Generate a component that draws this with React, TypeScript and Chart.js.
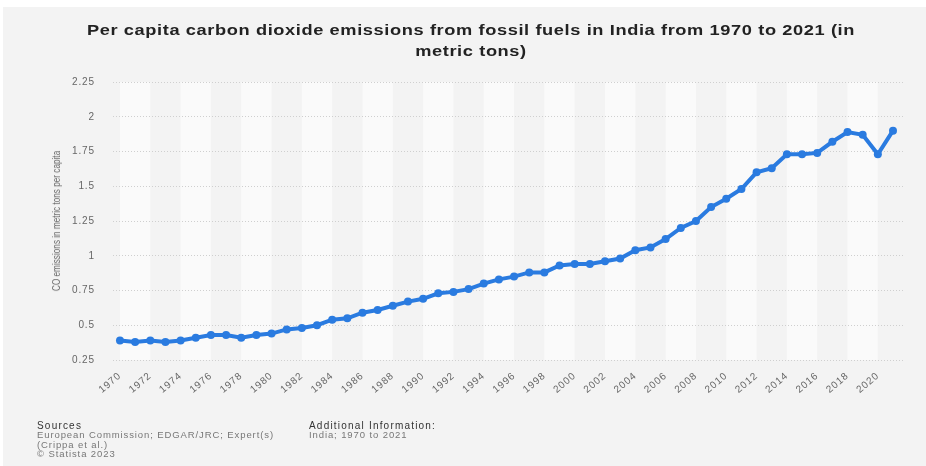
import { useEffect, useRef } from 'react';
import { Chart, registerables } from 'chart.js';

Chart.register(...registerables);

// Per capita CO2 emissions from fossil fuels, India (metric tons)
const years = [
  1970, 1971, 1972, 1973, 1974, 1975, 1976, 1977, 1978, 1979,
  1980, 1981, 1982, 1983, 1984, 1985, 1986, 1987, 1988, 1989,
  1990, 1991, 1992, 1993, 1994, 1995, 1996, 1997, 1998, 1999,
  2000, 2001, 2002, 2003, 2004, 2005, 2006, 2007, 2008, 2009,
  2010, 2011, 2012, 2013, 2014, 2015, 2016, 2017, 2018, 2019,
  2020, 2021,
];

const emissions = [
  0.39, 0.38, 0.39, 0.38, 0.39, 0.41, 0.43, 0.43, 0.41, 0.43,
  0.44, 0.47, 0.48, 0.5, 0.54, 0.55, 0.59, 0.61, 0.64, 0.67,
  0.69, 0.73, 0.74, 0.76, 0.8, 0.83, 0.85, 0.88, 0.88, 0.93,
  0.94, 0.94, 0.96, 0.98, 1.04, 1.06, 1.12, 1.2, 1.25, 1.35,
  1.41, 1.48, 1.6, 1.63, 1.73, 1.73, 1.74, 1.82, 1.89, 1.87,
  1.73, 1.9,
];

const xTickYears = [
  1970, 1972, 1974, 1976, 1978, 1980, 1982, 1984, 1986, 1988,
  1990, 1992, 1994, 1996, 1998, 2000, 2002, 2004, 2006, 2008,
  2010, 2012, 2014, 2016, 2018, 2020,
];

const yTicks = [0.25, 0.5, 0.75, 1, 1.25, 1.5, 1.75, 2, 2.25];

const titleLines = [
  'Per capita carbon dioxide emissions from fossil fuels in India from 1970 to 2021 (in',
  'metric tons)',
];
const yAxisTitle = 'CO emissions in metric tons per capita';
const sourceLines = [
  'European Commission; EDGAR/JRC; Expert(s)',
  '(Crippa et al.)',
  '\u00a9 Statista 2023',
];
const additionalInfo = 'India; 1970 to 2021';

const FONT = '"Liberation Sans", Arial, Helvetica, sans-serif';

// Light vertical stripes behind the plot, two years wide, every four years
const stripePlugin = {
  id: 'stripes',
  beforeDraw(chart: any) {
    const { ctx, chartArea, scales } = chart;
    const x = scales.x;
    ctx.save();
    ctx.fillStyle = '#fafafa';
    for (let i = 0; i < xTickYears.length; i += 2) {
      const a = Math.max(x.getPixelForValue(xTickYears[i]), chartArea.left);
      const b = Math.min(x.getPixelForValue(xTickYears[i] + 2), chartArea.right);
      if (b > a) ctx.fillRect(a, chartArea.top, b - a, chartArea.bottom - chartArea.top);
    }
    ctx.restore();
    ctx.letterSpacing = '0.9px';
  },
};

export default function App() {
  const canvasRef = useRef<HTMLCanvasElement | null>(null);

  useEffect(() => {
    if (!canvasRef.current) return;
    const chart = new Chart(canvasRef.current, {
      type: 'line',
      data: {
        datasets: [
          {
            data: years.map((y, i) => ({ x: y, y: emissions[i] })),
            borderColor: '#2a7be0',
            backgroundColor: '#2a7be0',
            borderWidth: 4,
            pointRadius: 4,
            pointBorderWidth: 0,
            tension: 0,
          },
        ],
      },
      options: {
        responsive: false,
        animation: false,
        devicePixelRatio: 1,
        layout: { padding: { left: 0, top: 82, right: 23, bottom: 66 } },
        plugins: {
          legend: { display: false },
          tooltip: { enabled: false },
          title: { display: false },
        },
        scales: {
          x: {
            type: 'linear',
            min: 1969.54,
            max: 2021.66,
            afterBuildTicks: (scale: any) => {
              scale.ticks = xTickYears.map((v) => ({ value: v }));
            },
            afterFit: (scale: any) => {
              scale.height = 40;
            },
            grid: { display: false, drawTicks: false },
            border: { display: false },
            ticks: {
              autoSkip: false,
              minRotation: 40,
              maxRotation: 40,
              padding: 10,
              color: '#666',
              font: { family: FONT, size: 10 },
              callback: (v: any) => String(v),
            },
          },
          y: {
            min: 0.25,
            max: 2.25,
            afterBuildTicks: (scale: any) => {
              scale.ticks = yTicks.map((v) => ({ value: v }));
            },
            afterFit: (scale: any) => {
              scale.width = 113;
            },
            grid: { color: '#cfcfcf', lineWidth: 1, drawTicks: false },
            border: { display: false, dash: [1, 2] },
            ticks: {
              padding: 18,
              color: '#666',
              font: { family: FONT, size: 10 },
              callback: (v: any) => String(v),
            },
          },
        },
      },
      plugins: [stripePlugin],
    });
    return () => chart.destroy();
  }, []);

  return (
    <div
      style={{
        position: 'absolute',
        left: 0,
        top: 0,
        width: 926,
        height: 466,
        background: '#ffffff',
        fontFamily: FONT,
        overflow: 'hidden',
      }}
    >
      <div style={{ position: 'absolute', left: 3, top: 7, width: 923, height: 459, background: '#f3f3f3' }} />
      <canvas ref={canvasRef} width={926} height={466} style={{ position: 'absolute', left: 0, top: 0 }} />
      <div
        style={{
          position: 'absolute',
          left: 71,
          width: 800,
          top: 20,
          textAlign: 'center',
          fontWeight: 'bold',
          fontSize: 15,
          lineHeight: '20.5px',
          letterSpacing: '0.5px',
          color: '#222',
          transform: 'scaleX(1.215)',
          transformOrigin: '50% 50%',
        }}
      >
        {titleLines.map((t) => (
          <div key={t}>{t}</div>
        ))}
      </div>
      <div
        style={{
          position: 'absolute',
          left: 56,
          top: 221,
          whiteSpace: 'nowrap',
          fontSize: 10.5,
          color: '#666',
          transform: 'translate(-50%, -50%) rotate(-90deg) scaleX(0.78)',
        }}
      >
        {yAxisTitle}
      </div>
      <div style={{ position: 'absolute', left: 37, top: 421, fontSize: 9.5, lineHeight: '9.4px', letterSpacing: '0.9px' }}>
        <div style={{ color: '#333', fontSize: 10, letterSpacing: '1.2px' }}>Sources</div>
        {sourceLines.map((t) => (
          <div key={t} style={{ color: '#777' }}>{t}</div>
        ))}
      </div>
      <div style={{ position: 'absolute', left: 309, top: 421, fontSize: 9.5, lineHeight: '9.4px', letterSpacing: '0.9px' }}>
        <div style={{ color: '#333', fontSize: 10, letterSpacing: '1.2px' }}>Additional Information:</div>
        <div style={{ color: '#777' }}>{additionalInfo}</div>
      </div>
    </div>
  );
}
